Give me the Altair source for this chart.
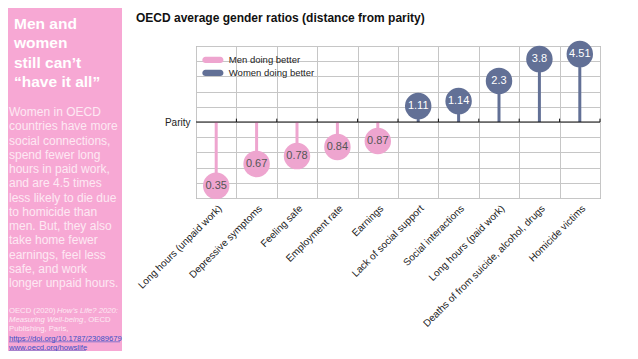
import altair as alt
import pandas as pd

# ---------------- data ----------------
categories = [
    "Long hours (unpaid work)",
    "Depressive symptoms",
    "Feeling safe",
    "Employment rate",
    "Earnings",
    "Lack of social support",
    "Social interactions",
    "Long hours (paid work)",
    "Deaths of from suicide, alcohol, drugs",
    "Homicide victims",
]
ratios = [0.35, 0.67, 0.78, 0.84, 0.87, 1.11, 1.14, 2.3, 3.8, 4.51]
ratio_labels = ["0.35", "0.67", "0.78", "0.84", "0.87", "1.11", "1.14", "2.3", "3.8", "4.51"]
# plotted distance from parity (grid units)
distances = [-4.2, -2.76, -2.24, -1.64, -1.25, 1.05, 1.38, 2.7, 4.14, 4.47]
groups = [
    "Men doing better", "Men doing better", "Men doing better", "Men doing better", "Men doing better",
    "Women doing better", "Women doing better", "Women doing better", "Women doing better", "Women doing better",
]
legend_labels = ["Men doing better", "Women doing better"]
grid_levels = [-5, -4, -3, -2, -1, 0, 1, 2, 3, 4, 5]

chart_title = "OECD average gender ratios (distance from parity)"
panel_title = ["Men and", "women", "still can\u2019t", "\u201chave it all\u201d"]
panel_body = [
    "Women in OECD",
    "countries have more",
    "social connections,",
    "spend fewer long",
    "hours in paid work,",
    "and are 4.5 times",
    "less likely to die due",
    "to homicide than",
    "men. But, they also",
    "take home fewer",
    "earnings, feel less",
    "safe, and work",
    "longer unpaid hours.",
]
cite_1a, cite_1b = "OECD (2020) ", "How\u2019s Life? 2020:"
cite_2a, cite_2b = "Measuring Well-being", ", OECD"
cite_3 = "Publishing, Paris,"
cite_4 = "https://doi.org/10.1787/23089679"
cite_5 = "www.oecd.org/howslife"

df = pd.DataFrame({
    "category": categories,
    "ratio": ratios,
    "label": ratio_labels,
    "distance": distances,
    "group": groups,
})

PINK = "#eea5cf"
BLUE = "#627096"
PANEL = "#f7a8d4"
FONT = "Liberation Sans"
GRID = "#c6c6c6"

one = alt.Data(values=[{"k": 1}])

# plot area origin on the page is (196, 46); helpers convert page px -> chart px
def px(x):
    return x - 196

def py(y):
    return y - 46

def text_layer(txt, x, y, size, color, weight="normal", style="normal", lh=None, align="left"):
    kw = dict(align=align, baseline="alphabetic", font=FONT, fontSize=size,
              color=color, fontWeight=weight, fontStyle=style)
    if lh is not None:
        kw["lineHeight"] = lh
    return alt.Chart(one).mark_text(**kw).encode(
        x=alt.value(px(x)), y=alt.value(py(y)), text=alt.value(txt)
    )

# ---------------- left panel ----------------
panel = alt.Chart(one).mark_rect(color=PANEL).encode(
    x=alt.value(px(8)), x2=alt.value(px(122)), y=alt.value(py(8)), y2=alt.value(py(351))
)
p_title = text_layer(panel_title, 14, 28.5, 15.5, "white", weight="bold", lh=19.5)
p_body = text_layer(panel_body, 9, 116, 12, "#fde8f3", lh=14.25)
c_col = "#fde8f3"
link = "#3b4fc4"
c1a = text_layer(cite_1a, 9, 313, 7.7, c_col)
c1b = text_layer(cite_1b, 57, 313, 7.7, c_col, style="italic")
c2a = text_layer(cite_2a, 9, 322.2, 7.7, c_col, style="italic")
c2b = text_layer(cite_2b, 84, 322.2, 7.7, c_col)
c3 = text_layer(cite_3, 9, 331.4, 7.7, c_col)
c4 = text_layer(cite_4, 9, 340.6, 7.7, link)
c5 = text_layer(cite_5, 9, 349.6, 7.7, link)
u4 = alt.Chart(one).mark_rule(color=link, strokeWidth=0.6).encode(
    x=alt.value(px(9)), x2=alt.value(px(120)), y=alt.value(py(341.8))
)
u5 = alt.Chart(one).mark_rule(color=link, strokeWidth=0.6).encode(
    x=alt.value(px(9)), x2=alt.value(px(86)), y=alt.value(py(350.8))
)

main_title = text_layer(chart_title, 136, 22, 12, "#111111", weight="bold")

# ---------------- main chart ----------------
x_axis = alt.Axis(title=None, labelAngle=-45, labelFont=FONT, labelFontSize=10,
                  labelColor="#222222", ticks=False, domain=False, grid=True,
                  tickBand="extent", gridColor=GRID, labelPadding=5)
x_enc = alt.X("category:N", sort=categories,
              scale=alt.Scale(paddingInner=0, paddingOuter=0), axis=x_axis)
y_scale = alt.Scale(domain=[-5, 5], nice=False, zero=False)
y_axis = alt.Axis(title=None, values=grid_levels,
                  labelExpr="datum.value == 0 ? 'Parity' : ''",
                  labelFont=FONT, labelFontSize=10, labelColor="#222222",
                  ticks=False, domain=False, grid=True, gridColor=GRID,
                  labelPadding=6)
y_enc = alt.Y("distance:Q", scale=y_scale, axis=y_axis)
color_enc = alt.Color(
    "group:N",
    scale=alt.Scale(domain=legend_labels, range=[PINK, BLUE]),
    legend=alt.Legend(
        orient="none", legendX=8.9, legendY=5.9, title=None, padding=0,
        symbolType="M-0.98,-0.41 H0.98 A0.41,0.41 0 0 1 0.98,0.41 H-0.98 A0.41,0.41 0 0 1 -0.98,-0.41 Z",
        symbolSize=231, symbolStrokeWidth=0, symbolOpacity=1,
        labelFont=FONT, labelFontSize=9.5, labelColor="#222222",
        labelOffset=7.9, rowPadding=0,
    ),
)

base = alt.Chart(df)

stems = base.mark_rule(strokeWidth=3).encode(
    x=x_enc, y=y_enc, y2=alt.datum(0), color=color_enc
)

parity = alt.Chart(alt.Data(values=[{"parity": 0}])).mark_rule(
    color="#111111", strokeWidth=1.2
).encode(y=alt.Y("parity:Q", scale=y_scale, axis=y_axis))

parity_ticks = base.mark_rule(color="#111111", strokeWidth=1, xOffset=20.2).encode(
    x=x_enc, y=alt.Y(datum=0, scale=y_scale, axis=y_axis), y2=alt.datum(0.22)
)

bubbles = base.mark_circle(size=700, opacity=1).encode(
    x=x_enc, y=y_enc, color=color_enc
)

labels = base.mark_text(font=FONT, fontSize=11, baseline="middle").encode(
    x=x_enc, y=y_enc, text="label:N",
    color=alt.condition(alt.datum.group == "Men doing better",
                        alt.value("#555555"), alt.value("white")),
)

chart = alt.layer(
    panel, p_title, p_body, c1a, c1b, c2a, c2b, c3, c4, c5, u4, u5, main_title,
    stems, parity, parity_ticks, bubbles, labels,
).properties(
    width=404, height=152,
    autosize=alt.AutoSizeParams(type="none"),
    padding={"left": 188, "top": 38, "right": 22, "bottom": 153},
).configure_view(stroke="#8a8a8a", strokeWidth=1)

chart.save("out.html", embed_options={"renderer": "svg", "actions": False})
